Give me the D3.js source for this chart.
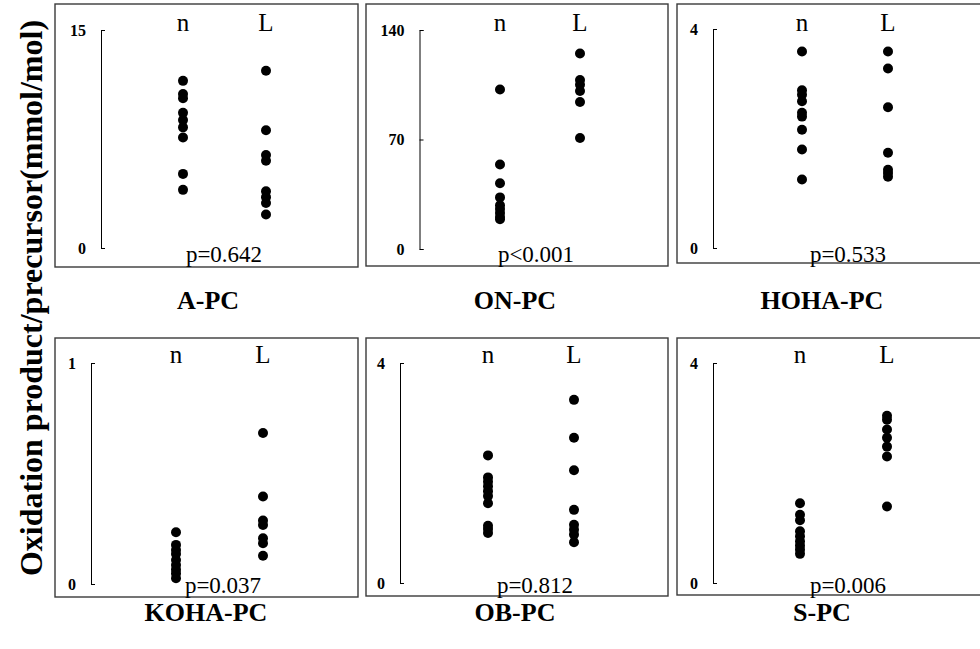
<!DOCTYPE html>
<html><head><meta charset="utf-8">
<script src="https://cdn.jsdelivr.net/npm/d3@7"></script>
<style>
html,body{margin:0;padding:0;background:#fff;overflow:hidden}
</style></head>
<body>
<script>
// ---- data ----
const categories = ["A-PC","ON-PC","HOHA-PC","KOHA-PC","OB-PC","S-PC"];
const groups = ["n","L"];
const yMax = [15,140,4,1,4,4];
const yTicks = [[0,15],[0,70,140],[0,4],[0,1],[0,4],[0,4]];
const pValues = ["p=0.642","p<0.001","p=0.533","p=0.037","p=0.812","p=0.006"];
const nValues = [
  [11.5,10.6,10.3,9.3,8.8,8.3,7.6,5.1,4.0],
  [102,54,42,33,28,25.5,23,20.5,19],
  [3.59,2.88,2.80,2.68,2.47,2.40,2.16,1.80,1.25],
  [0.234,0.177,0.154,0.136,0.109,0.086,0.066,0.048,0.026],
  [2.32,1.92,1.84,1.76,1.67,1.58,1.45,1.04,0.98,0.91],
  [1.45,1.24,1.14,0.94,0.85,0.76,0.68,0.61,0.53]
];
const LValues = [
  [12.2,8.1,6.4,6.0,3.9,3.5,3.1,2.3],
  [125,108,105,101,94,71],
  [3.59,3.28,2.57,1.74,1.43,1.37,1.30],
  [0.683,0.396,0.287,0.267,0.207,0.184,0.128],
  [3.33,2.64,2.05,1.33,1.06,0.97,0.88,0.74],
  [3.04,2.97,2.79,2.64,2.48,2.30,1.39]
];
const yLabel = "Oxidation product/precursor(mmol/mol)";

// ---- layout ----
const FONT = '"Liberation Serif","Times New Roman",serif';
const W = 980, H = 649;
const layout = [
  {bx:55, by:4, bw:303, bh:263, ax:101,   y0:248, y1:30, xn:183, xL:266, px:224, lblY:31, pY:262, tx:208, tY:309},
  {bx:366,by:4, bw:302, bh:262, ax:419.5, y0:249, y1:30, xn:500, xL:580, px:536, lblY:31, pY:262, tx:515, tY:309},
  {bx:677,by:4, bw:310, bh:259, ax:713,   y0:248, y1:29, xn:802, xL:888, px:848, lblY:31, pY:262, tx:822, tY:309},
  {bx:55, by:338,bw:303,bh:259, ax:91,    y0:584, y1:363,xn:176, xL:263, px:223, lblY:363,pY:593, tx:206, tY:621},
  {bx:366,by:338,bw:302,bh:258, ax:400,   y0:583, y1:363,xn:488, xL:574, px:535, lblY:363,pY:593, tx:515, tY:621},
  {bx:677,by:338,bw:310,bh:257, ax:713,   y0:583, y1:363,xn:800, xL:887, px:848, lblY:363,pY:593, tx:822, tY:621}
];

const svg = d3.select("body").append("svg").attr("width",W).attr("height",H)
  .style("font-family",FONT);

categories.forEach((cat,i)=>{
  const L = layout[i];
  const g = svg.append("g");
  g.append("rect").attr("x",L.bx).attr("y",L.by).attr("width",L.bw).attr("height",L.bh)
    .attr("fill","none").attr("stroke","#3a3a3a").attr("stroke-width",1.4);

  const y = d3.scaleLinear().domain([0,yMax[i]]).range([L.y0,L.y1]);
  const x = d3.scalePoint().domain(groups).range([L.xn,L.xL]);

  const axis = d3.axisLeft(y).tickValues(yTicks[i]).tickSizeInner(-4).tickSizeOuter(-4)
    .tickPadding(15).tickFormat(d3.format("d"));
  const ag = g.append("g").attr("transform",`translate(${L.ax},0)`).call(axis);
  ag.attr("font-family",null);
  ag.select(".domain").attr("stroke","#000").attr("stroke-width",1);
  ag.selectAll(".tick line").attr("stroke","#000");
  ag.selectAll(".tick text").style("font-family",FONT).attr("font-weight","bold")
    .attr("font-size",16).attr("fill","#000");

  // group labels
  g.selectAll("text.grp").data(groups).enter().append("text").attr("class","grp")
    .attr("x",d=>x(d)).attr("y",L.lblY).attr("text-anchor","middle")
    .style("font-family",FONT).attr("font-size",25).attr("fill","#000").text(d=>d);

  // dots
  const pts = nValues[i].map(v=>({g:"n",v})).concat(LValues[i].map(v=>({g:"L",v})));
  g.selectAll("circle").data(pts).enter().append("circle")
    .attr("cx",d=>x(d.g)).attr("cy",d=>y(d.v)).attr("r",5).attr("fill","#000");

  // p value
  g.append("text").attr("x",L.px).attr("y",L.pY).attr("text-anchor","middle")
    .style("font-family",FONT).attr("font-size",23).attr("fill","#000").text(pValues[i]);

  // title
  g.append("text").attr("x",L.tx).attr("y",L.tY).attr("text-anchor","middle")
    .style("font-family",FONT).attr("font-size",26).attr("font-weight","bold").attr("fill","#000").text(cat);
});

svg.append("text").attr("transform","translate(42,298) rotate(-90)")
  .attr("text-anchor","middle").style("font-family",FONT)
  .attr("font-size",32).attr("font-weight","bold").attr("fill","#000").text(yLabel);
</script>
</body></html>
